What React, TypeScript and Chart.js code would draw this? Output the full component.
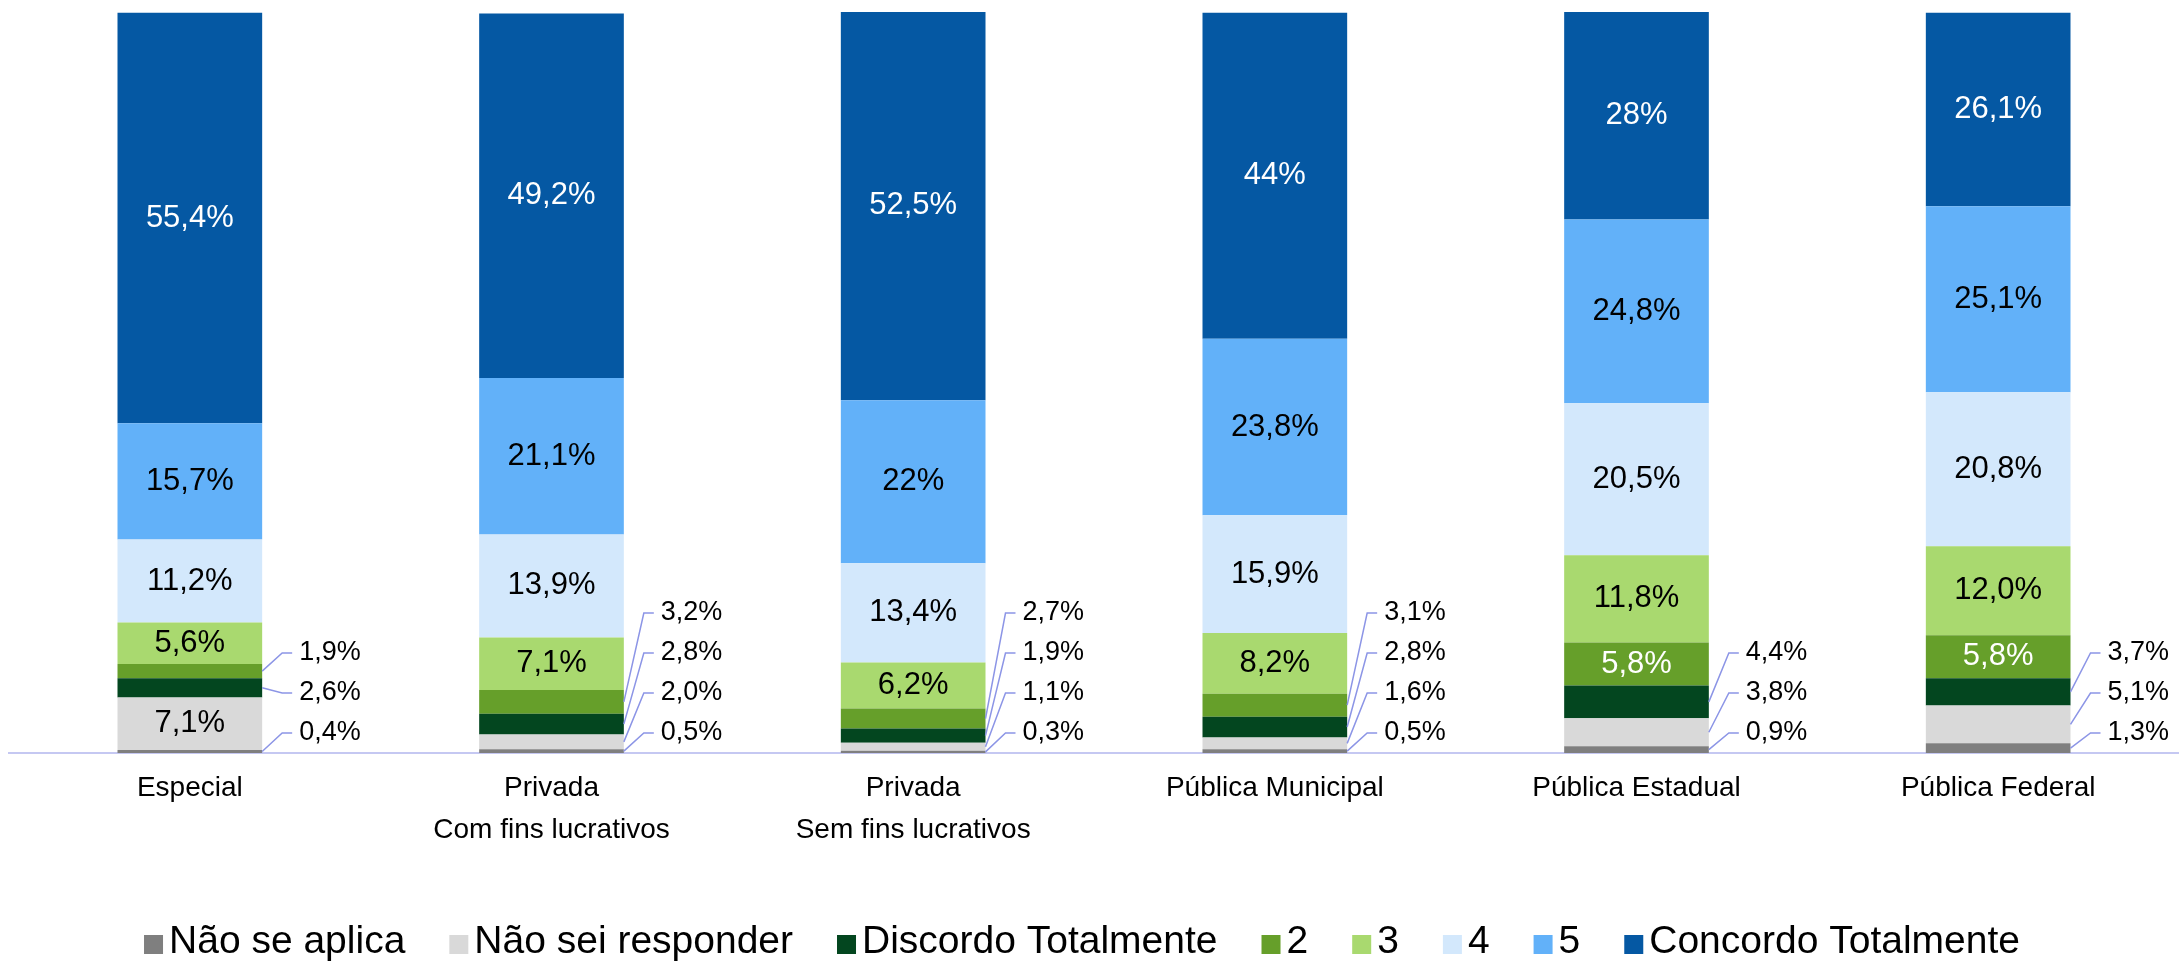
import React, { useEffect, useRef } from "react";
import { Chart, registerables } from "chart.js";

Chart.register(...registerables);

const categories: string[][] = [
  ["Especial"],
  ["Privada", "Com fins lucrativos"],
  ["Privada", "Sem fins lucrativos"],
  ["Pública Municipal"],
  ["Pública Estadual"],
  ["Pública Federal"],
];

const seriesNames = [
  "Não se aplica",
  "Não sei responder",
  "Discordo Totalmente",
  "2",
  "3",
  "4",
  "5",
  "Concordo Totalmente",
];

// values as printed on the chart (percent, comma decimal)
const naoSeAplica = ["0,4", "0,5", "0,3", "0,5", "0,9", "1,3"];
const naoSeiResponder = ["7,1", "2,0", "1,1", "1,6", "3,8", "5,1"];
const discordoTotalmente = ["2,6", "2,8", "1,9", "2,8", "4,4", "3,7"];
const nota2 = ["1,9", "3,2", "2,7", "3,1", "5,8", "5,8"];
const nota3 = ["5,6", "7,1", "6,2", "8,2", "11,8", "12,0"];
const nota4 = ["11,2", "13,9", "13,4", "15,9", "20,5", "20,8"];
const nota5 = ["15,7", "21,1", "22", "23,8", "24,8", "25,1"];
const concordoTotalmente = ["55,4", "49,2", "52,5", "44", "28", "26,1"];

const seriesValues = [
  naoSeAplica,
  naoSeiResponder,
  discordoTotalmente,
  nota2,
  nota3,
  nota4,
  nota5,
  concordoTotalmente,
];

const seriesColors = [
  "#7f7f7f",
  "#d9d9d9",
  "#03461f",
  "#669f2a",
  "#a9d96f",
  "#d3e8fc",
  "#62b1f9",
  "#0558a3",
];
const labelTextColors = ["#000", "#000", "#000", "#fff", "#000", "#000", "#000", "#fff"];

const FONT = "'Liberation Sans', Arial, Helvetica, sans-serif";
const OUTSIDE_THRESHOLD = 5.5;

const toNum = (s: string) => parseFloat(s.replace(",", "."));

const segmentLabelPlugin = {
  id: "segmentLabels",
  afterDatasetsDraw(chart: any) {
    const ctx = chart.ctx as CanvasRenderingContext2D;
    const yScale = chart.scales.y;
    const axisY = yScale.getPixelForValue(0);
    const nCat = chart.data.labels.length;
    ctx.save();
    for (let i = 0; i < nCat; i++) {
      const outside: { text: string; midY: number; right: number }[] = [];
      chart.data.datasets.forEach((ds: any, d: number) => {
        const meta = chart.getDatasetMeta(d);
        const bar: any = meta.data[i];
        if (!bar) return;
        const v = ds.data[i];
        const text = ds.printed[i] + "%";
        const midY = (bar.y + bar.base) / 2;
        if (v < OUTSIDE_THRESHOLD) {
          outside.push({ text, midY, right: bar.x + bar.width / 2 });
        } else {
          ctx.font = `31px ${FONT}`;
          ctx.fillStyle = labelTextColors[d];
          ctx.textAlign = "center";
          ctx.textBaseline = "middle";
          ctx.fillText(text, bar.x, midY);
        }
      });
      outside.forEach((o, k) => {
        const ty = axisY - 20 - 40 * k;
        const ex = o.right + 20;
        ctx.strokeStyle = "#8c95e6";
        ctx.lineWidth = 1.5;
        ctx.beginPath();
        ctx.moveTo(o.right, o.midY);
        ctx.lineTo(ex, ty);
        ctx.lineTo(ex + 10, ty);
        ctx.stroke();
        ctx.font = `27px ${FONT}`;
        ctx.fillStyle = "#000";
        ctx.textAlign = "left";
        ctx.textBaseline = "middle";
        ctx.fillText(o.text, ex + 17, ty);
      });
    }
    ctx.restore();
  },
};

const legendPlugin = {
  id: "bottomLegend",
  afterDraw(chart: any) {
    const ctx = chart.ctx as CanvasRenderingContext2D;
    ctx.save();
    ctx.font = `39px ${FONT}`;
    const box = 19;
    const boxGap = 6;
    const itemGap = 44;
    const widths = seriesNames.map((n) => ctx.measureText(n).width);
    const total =
      widths.reduce((a, w) => a + box + boxGap + w, 0) + itemGap * (seriesNames.length - 1);
    let x = 1082 - total / 2;
    const cy = 942;
    seriesNames.forEach((name, i) => {
      ctx.fillStyle = seriesColors[i];
      ctx.fillRect(x, cy - 7, box, box);
      ctx.fillStyle = "#000";
      ctx.textAlign = "left";
      ctx.textBaseline = "middle";
      ctx.fillText(name, x + box + boxGap, cy);
      x += box + boxGap + widths[i] + itemGap;
    });
    ctx.restore();
  },
};

export default function App() {
  const canvasRef = useRef<HTMLCanvasElement | null>(null);

  useEffect(() => {
    const canvas = canvasRef.current;
    if (!canvas) return;
    Chart.defaults.font.family = FONT;
    const chart = new Chart(canvas, {
      type: "bar",
      data: {
        labels: categories,
        datasets: seriesNames.map((name, d) => ({
          label: name,
          data: seriesValues[d].map(toNum),
          printed: seriesValues[d],
          backgroundColor: seriesColors[d],
          borderWidth: 0,
          categoryPercentage: 0.4,
          barPercentage: 1.0,
        })) as any,
      },
      options: {
        animation: false,
        responsive: false,
        devicePixelRatio: 1,
        layout: { padding: { top: 12, left: 9, right: 0, bottom: 0 } },
        plugins: {
          legend: { display: false },
          tooltip: { enabled: false },
        },
        scales: {
          x: {
            stacked: true,
            grid: { display: false, drawTicks: false },
            border: { display: true, color: "#c5c8f2", width: 2 },
            ticks: {
              color: "#000",
              padding: 14,
              font: { size: 28, family: FONT, lineHeight: 1.5 },
              maxRotation: 0,
              autoSkip: false,
            },
            afterFit: (scale: any) => {
              scale.height = 210;
            },
          },
          y: {
            stacked: true,
            display: false,
            min: 0,
            max: 100,
          },
        },
      },
      plugins: [segmentLabelPlugin, legendPlugin],
    });
    return () => chart.destroy();
  }, []);

  return (
    <div style={{ position: "absolute", left: 0, top: 0, width: 2179, height: 963, background: "#fff" }}>
      <canvas ref={canvasRef} width={2179} height={963} style={{ width: 2179, height: 963, display: "block" }} />
    </div>
  );
}
